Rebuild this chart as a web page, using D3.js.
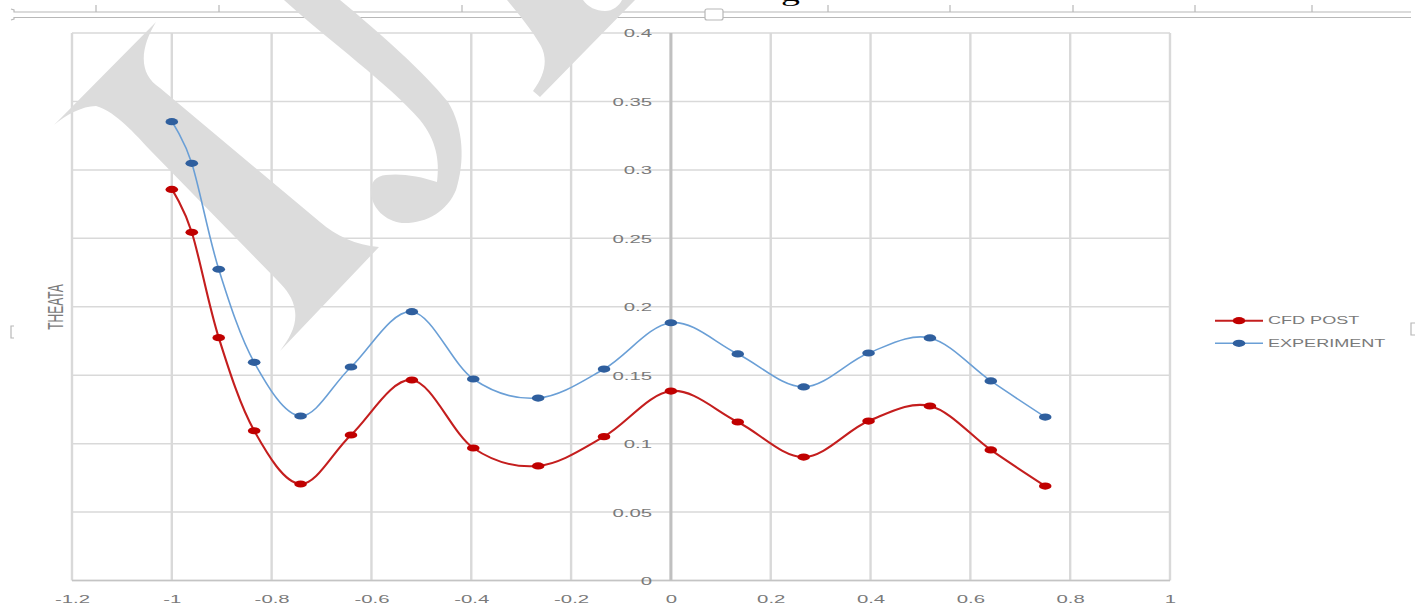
<!DOCTYPE html>
<html><head><meta charset="utf-8">
<script src="https://cdn.jsdelivr.net/npm/d3@7"></script>
<style>html,body{margin:0;padding:0;background:#fff;overflow:hidden}</style>
</head><body>
<svg id="c" width="1415" height="612" xmlns="http://www.w3.org/2000/svg"></svg>
<script>
// ---- data ----
const xValues = [-1, -0.96, -0.906, -0.835, -0.742, -0.641, -0.519, -0.396, -0.266, -0.134, 0, 0.134, 0.266, 0.396, 0.519, 0.641, 0.75];
const cfdPost = [0.2857, 0.2544, 0.1774, 0.1094, 0.0705, 0.1063, 0.1465, 0.0968, 0.0837, 0.1051, 0.1384, 0.1158, 0.0902, 0.1165, 0.1275, 0.0954, 0.069];
const experiment = [0.3352, 0.3048, 0.2274, 0.1594, 0.1202, 0.156, 0.1964, 0.1472, 0.1333, 0.1545, 0.1883, 0.1655, 0.1414, 0.1662, 0.1772, 0.1458, 0.1194];
const seriesNames = ["CFD POST", "EXPERIMENT"];
const xTicks = [-1.2, -1, -0.8, -0.6, -0.4, -0.2, 0, 0.2, 0.4, 0.6, 0.8, 1];
const yTicks = [0, 0.05, 0.1, 0.15, 0.2, 0.25, 0.3, 0.35, 0.4];
const yTitle = "THEATA";

// ---- setup ----
const SX = 1.85; // horizontal stretch of the original rendering
const FONT = "'Liberation Sans', Arial, sans-serif";
const svg = d3.select("#c");
svg.append("rect").attr("width", 1415).attr("height", 612).attr("fill", "#fff");

const x = d3.scaleLinear().domain([-1.2, 1]).range([72, 1170]);
const y = d3.scaleLinear().domain([0, 0.4]).range([580.5, 33]);

// page ruler at top (document decoration)
const deco = svg.append("g").attr("fill", "none").attr("stroke", "#b8b8b8");
deco.append("line").attr("x1", 16).attr("x2", 1411).attr("y1", 12).attr("y2", 12).attr("stroke-width", 1.2);
deco.append("line").attr("x1", 16).attr("x2", 1411).attr("y1", 17.5).attr("y2", 17.5).attr("stroke-width", 1.2);
deco.append("path").attr("d", "M11,9 L14,10 L14,12 L16,12 M16,17.5 L14,17.5 L14,19 L11,20").attr("stroke-width", 1.2);
[96, 219, 342, 462, 583, 828, 950, 1073, 1195, 1312].forEach(t => {
  deco.append("line").attr("x1", t).attr("x2", t).attr("y1", 5).attr("y2", 12).attr("stroke-width", 1.2);
});
deco.append("rect").attr("x", 705).attr("y", 9).attr("width", 18).attr("height", 11).attr("rx", 2)
  .attr("fill", "#fff").attr("stroke-width", 1.2);
deco.append("path").attr("d", "M14,326 L11,326 L11,338 L14,338").attr("stroke-width", 1.2);
deco.append("path").attr("d", "M1415,323 L1411,323 L1411,335 L1415,335").attr("stroke-width", 1.2);

// descenders of the text line above the figure (cut off by the page, as in the original)
svg.append("text").attr("transform", "translate(303,0.5) scale(1.8,1)")
  .attr("font-family", "'Liberation Serif', serif").attr("font-size", 21).attr("fill", "#000").text("p");
svg.append("text").attr("transform", "translate(781,0.5) scale(1.8,1)")
  .attr("font-family", "'Liberation Serif', serif").attr("font-size", 21).attr("fill", "#000").text("g");

// ---- gridlines ----
const grid = svg.append("g");
grid.selectAll("line.v").data(xTicks).join("line").attr("class", "v")
  .attr("x1", d => x(d)).attr("x2", d => x(d)).attr("y1", y(0)).attr("y2", y(0.4))
  .attr("stroke", "#d9d9d9").attr("stroke-width", 2.4);
grid.selectAll("line.h").data(yTicks).join("line").attr("class", "h")
  .attr("x1", x(-1.2)).attr("x2", x(1)).attr("y1", d => y(d)).attr("y2", d => y(d))
  .attr("stroke", "#d9d9d9").attr("stroke-width", 1.5);

// ---- watermark ----
const wm = svg.append("g").attr("fill", "#dcdcdc");
wm.append("path").attr("d",
  "M54,125 L156,22 C140,48 138,74 160,88 L320,222 C336,236 356,245 379,247 " +
  "L280,351 C290,338 297,325 295,311 C293,298 287,290 277,280 L150,150 C130,128 112,110 96,106 C82,106 66,115 54,125 Z");
wm.append("path").attr("d",
  "M284,0 L340,0 C382,35 422,70 448,102 C464,128 465,162 456,190 C447,212 425,224 402,223 " +
  "C385,221 372,208 371,193 C370,182 376,176 386,175 C400,173 420,176 437,182 C440,160 436,140 420,120 C390,85 328,40 284,0 Z");
wm.append("path").attr("d",
  "M533,91 C545,75 548,60 541,46 C532,30 518,13 507,0 L583,0 C588,7 596,11 605,11 C613,11 619,6 622,0 L635,0 L540,97 Z");

// ---- axes lines ----
svg.append("line").attr("x1", x(-1.2)).attr("x2", x(1)).attr("y1", y(0)).attr("y2", y(0))
  .attr("stroke", "#c4c4c4").attr("stroke-width", 1.6);
svg.append("line").attr("x1", x(0)).attr("x2", x(0)).attr("y1", y(0)).attr("y2", y(0.4))
  .attr("stroke", "#c0c0c0").attr("stroke-width", 3);

const fmt = d => String(+d.toFixed(2));

const xAxis = svg.append("g").attr("transform", `translate(0,${y(0)})`)
  .call(d3.axisBottom(x).tickValues(xTicks).tickSize(0).tickFormat(fmt));
xAxis.select(".domain").remove();
xAxis.selectAll("text").attr("y", 22.5).attr("dy", null)
  .attr("transform", `scale(${SX},1)`)
  .attr("font-family", FONT).attr("font-size", 11).attr("fill", "#7a7a7a");

const yAxis = svg.append("g").attr("transform", `translate(${x(0)},0)`)
  .call(d3.axisLeft(y).tickValues(yTicks).tickSize(0).tickFormat(fmt));
yAxis.select(".domain").remove();
yAxis.selectAll("text").attr("x", -(x(0) - 652) / SX).attr("dy", "0.36em")
  .attr("transform", `scale(${SX},1)`)
  .attr("font-family", FONT).attr("font-size", 11).attr("fill", "#7a7a7a");

// y title
svg.append("text").attr("transform", `translate(56,307) scale(1.8,1) rotate(-90)`)
  .attr("text-anchor", "middle").attr("dominant-baseline", "central")
  .attr("font-family", FONT).attr("font-size", 12).attr("fill", "#7a7a7a").text(yTitle);

// ---- series ----
const series = [
  { name: seriesNames[0], values: cfdPost, line: "#c41e1e", marker: "#c00000", w: 2.1 },
  { name: seriesNames[1], values: experiment, line: "#6a9fd6", marker: "#2f5f9e", w: 1.6 }
];
const lineGen = d3.line().x(d => x(d[0])).y(d => y(d[1])).curve(d3.curveCardinal.tension(0));

series.forEach(s => {
  const pts = xValues.map((xv, i) => [xv, s.values[i]]);
  svg.append("path").datum(pts).attr("d", lineGen).attr("fill", "none")
    .attr("stroke", s.line).attr("stroke-width", s.w);
  svg.append("g").selectAll("ellipse").data(pts).join("ellipse")
    .attr("cx", d => x(d[0])).attr("cy", d => y(d[1])).attr("rx", 6.3).attr("ry", 3.6)
    .attr("fill", s.marker);
});

// ---- legend ----
const legY = [320.7, 343.3];
series.forEach((s, i) => {
  const g = svg.append("g");
  g.append("line").attr("x1", 1215).attr("x2", 1263).attr("y1", legY[i]).attr("y2", legY[i])
    .attr("stroke", s.line).attr("stroke-width", s.w);
  g.append("ellipse").attr("cx", 1239).attr("cy", legY[i]).attr("rx", 6.3).attr("ry", 3.6).attr("fill", s.marker);
  g.append("text").attr("transform", `translate(1268,${legY[i]}) scale(1.72,1)`)
    .attr("dy", "0.36em").attr("font-family", FONT).attr("font-size", 10.5).attr("fill", "#7a7a7a")
    .text(s.name);
});
</script>
</body></html>
